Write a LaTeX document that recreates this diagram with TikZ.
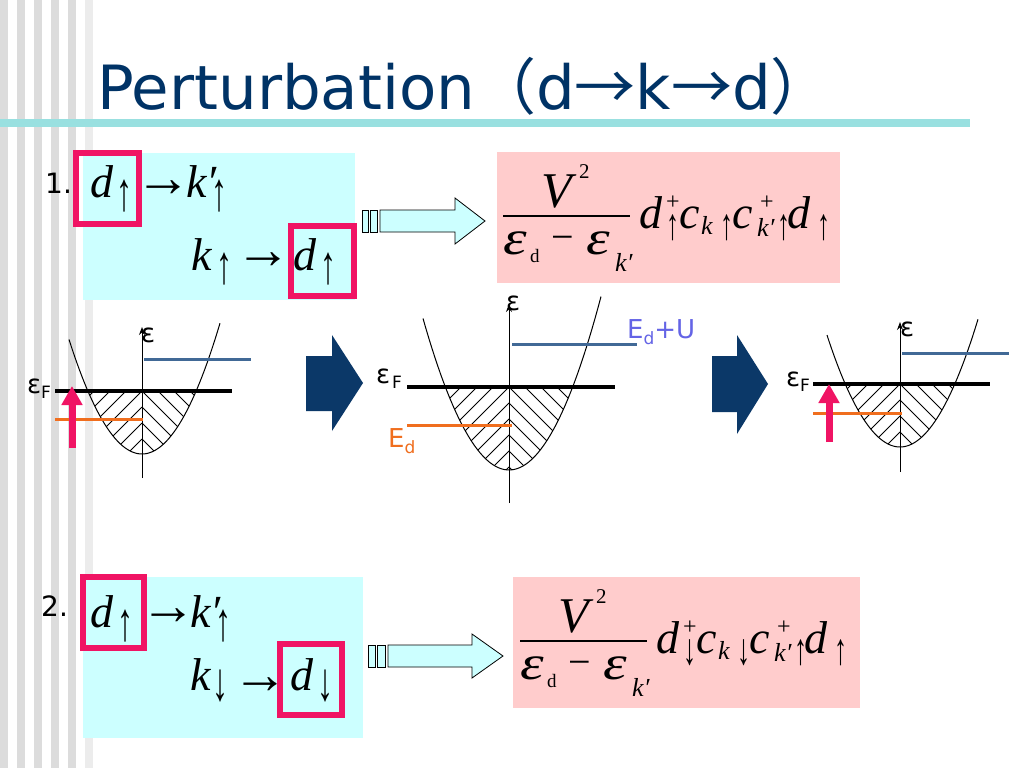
\documentclass[tikz,border=0pt]{standalone}
\usepackage{fontspec}
\usepackage{graphicx}
\setmainfont{DejaVu Sans}
\newfontfamily\tms{Liberation Serif}
\newfontfamily\cjk{Noto Sans CJK JP}
\usetikzlibrary{arrows.meta}
\definecolor{titleblue}{RGB}{0,51,102}
\definecolor{rulec}{RGB}{153,224,224}
\definecolor{stripe}{RGB}{220,220,220}
\definecolor{stripel}{RGB}{236,236,236}
\definecolor{cyanbg}{RGB}{204,255,255}
\definecolor{pinkbg}{RGB}{255,204,204}
\definecolor{hot}{RGB}{240,20,100}
\definecolor{navy}{RGB}{11,56,104}
\definecolor{steel}{RGB}{65,105,150}
\definecolor{orng}{RGB}{240,110,30}
\definecolor{lav}{RGB}{100,100,230}
\newcommand\UA{\scalebox{1}[1.7]{↑}}
\newcommand\DA{\scalebox{1}[1.7]{↓}}
\newcommand\EPS{\scalebox{1.3}[1.05]{ε}}
\tikzset{
  mi/.style={anchor=base west, inner sep=0pt, font=\tms\itshape\fontsize{46}{46}\selectfont},
  mr/.style={anchor=base west, inner sep=0pt, font=\tms\fontsize{46}{46}\selectfont},
  marrow/.style={anchor=base west, inner sep=0pt, font=\tms\fontsize{56}{56}\selectfont},
  si/.style={anchor=base west, inner sep=0pt, font=\tms\itshape\fontsize{26}{26}\selectfont},
  sr/.style={anchor=base west, inner sep=0pt, font=\tms\fontsize{26}{26}\selectfont},
  tiny/.style={anchor=base west, inner sep=0pt, font=\tms\fontsize{21}{21}\selectfont},
  plus/.style={anchor=base west, inner sep=0pt, font=\tms\fontsize{24}{24}\selectfont},
  cs/.style={anchor=base west, inner sep=0pt, font=\tms\fontsize{32}{32}\selectfont},
  lab/.style={anchor=base west, inner sep=0pt, font=\fontsize{26}{26}\selectfont},
  labs/.style={anchor=base west, inner sep=0pt, font=\fontsize{17}{17}\selectfont},
  num/.style={anchor=base west, inner sep=0pt, font=\fontsize{28}{28}\selectfont},
  redbox/.style={draw=hot, line width=6pt},
  hatch/.style={line width=0.9pt},
  curve/.style={line width=1pt},
  fermi/.style={line width=4.5pt},
  upper/.style={steel, line width=3pt},
  lower/.style={orng, line width=3pt},
  axis/.style={line width=1pt, -{Stealth[length=8pt,width=6pt]}},
  pinkarrow/.style={hot, line width=7pt, -{Triangle[length=19pt,width=20pt]}},
  hollow/.style={draw=black, fill=cyanbg, line width=0.8pt},
  navyarrow/.style={fill=navy},
}
% parabola with hatched filling below the Fermi level
% #1 xc, #2 y bottom, #3 a, #4 left dx, #5 right dx, #6 y Fermi
\newcommand\BandCurve[6]{%
  \begin{scope}
    \pgfmathsetmacro\hw{sqrt((#2-#6)/#3)}
    \clip plot[domain=-\hw:\hw,samples=40] ({#1+(\x)},{#2-#3*(\x)^2}) -- cycle;
    \foreach \c in {-96,-80,...,96}{
      \draw[hatch] ({#1},{#6+(\c)}) -- ++(-110,110);
      \draw[hatch] ({#1},{#6+(\c)}) -- ++(110,110);}
  \end{scope}
  \draw[curve] plot[domain=#4:#5,samples=60] ({#1+(\x)},{#2-#3*(\x)^2});
}
\newcommand\PinkFormula[2]{%
  \node[mi, font=\tms\itshape\fontsize{50}{50}\selectfont] (V) at (541,207) {V};
  \node[tiny] (two) at (579,178) {2};
  \coordinate (barl) at (503,216);
  \coordinate (barr) at (630,216);
  \draw[line width=1.8pt] (barl) -- (barr);
  \node[mi] (e1) at (503,254) {\EPS};
  \node[tiny, font=\tms\fontsize{19}{19}\selectfont] (dsub) at (530,262) {d};
  \node[mr, font=\tms\fontsize{40}{40}\selectfont] (minus) at (551,250) {−};
  \node[mi] (e2) at (586,254) {\EPS};
  \node[si] (kp) at (615,271) {k′};
  \node[mi] (d1) at (639,228) {d};
  \node[plus] (p1) at (666,209) {+};
  \node[sr] (a1) at (666,239) {#1};
  \node[mi] (c1) at (679,228) {c};
  \node[si] (k1) at (701,234) {k};
  \node[sr] (a2) at (720,239) {#2};
  \node[mi] (c2) at (732,228) {c};
  \node[plus] (p2) at (760,209) {+};
  \node[si] (k2) at (757,236) {k′};
  \node[sr] (a3) at (777,239) {\UA};
  \node[mi] (d2) at (787,228) {d};
  \node[sr] (a4) at (817,239) {\UA};
}
\begin{document}
\begin{tikzpicture}[x=1pt,y=-1pt]
\useasboundingbox (0,0) rectangle (1024,768);
\fill[white] (0,0) rectangle (1024,768);
% stripes
\foreach \sx in {0,17,34,51,68} \fill[stripe] (\sx,0) rectangle ++(8,768);
\fill[stripel] (85,0) rectangle (93,768);
% title and rule
\fill[rulec] (0,119) rectangle (970,127);
\node[anchor=base west, inner sep=0pt, text=titleblue, font=\fontsize{61}{61}\selectfont] (title) at (97,109)
  {Perturbation{\cjk（}d{\cjk →}k{\cjk →}d{\cjk ）}};

% ---------- case 1 ----------
\fill[cyanbg] (83,153) rectangle (355,300);
\node[num] (n1) at (45,193) {1.};
\node[mi] (b1d) at (90,197) {d};
\node[cs] (b1da) at (116,210) {\UA};
\node[marrow] (b1ar) at (135,196) {→};
\node[mi] (b1k) at (186,197) {k′};
\node[cs] (b1ka) at (211,210) {\UA};
\node[mi] (b1k2) at (191,270) {k};
\node[cs] (b1k2a) at (216,283) {\UA};
\node[marrow] (b1ar2) at (235,268) {→};
\node[mi] (b1d2) at (293,270) {d};
\node[cs] (b1d2a) at (320,283) {\UA};
\draw[redbox] (76,153) rectangle (139,224);
\draw[redbox] (291,226) rectangle (354,296);
% hollow arrow 1
\draw[hollow] (362,210) rectangle (368,232);
\draw[hollow] (370,210) rectangle (377,232);
\draw[hollow] (380,210) -- (455,210) -- (455,198) -- (485,221) -- (455,244) -- (455,232) -- (380,232) -- cycle;
% formula 1
\fill[pinkbg] (497,152) rectangle (840,283);
\begin{scope}[name prefix=f1-]
  \PinkFormula{\UA}{\UA}
\end{scope}

% ---------- band diagram 1 ----------
\BandCurve{142}{454}{0.0215}{-73}{78}{391}
\coordinate (ax1b) at (142,478);
\coordinate (ax1t) at (142,327);
\draw[axis] (ax1b) -- (ax1t);
\node[lab] (eps1) at (141,342) {ε};
\draw[upper] (144,359) -- (251,359);
\draw[fermi] (55,391) -- (232,391);
\draw[lower] (55,419) -- (143,419);
\node[lab] (ef1) at (27,393) {ε};
\node[labs] (ef1s) at (41,398) {F};
\coordinate (pa1b) at (72,448);
\coordinate (pa1t) at (72,386);
\draw[pinkarrow] (pa1b) -- (pa1t);

% navy arrow A
\fill[navyarrow] (306,356) -- (332,356) -- (332,335) -- (363,383) -- (332,431) -- (332,411) -- (306,411) -- cycle;

% ---------- band diagram 2 ----------
\BandCurve{509}{470}{0.0205}{-86}{92}{387}
\coordinate (ax2b) at (509,503);
\coordinate (ax2t) at (509,304);
\draw[axis] (ax2b) -- (ax2t);
\node[lab] (eps2) at (506,310) {ε};
\draw[upper] (512,344) -- (637,344);
\draw[fermi] (407,387) -- (615,387);
\draw[lower] (407,425) -- (512,425);
\node[lab] (ef2) at (376,383) {ε};
\node[labs] (ef2s) at (392,388) {F};
\node[lab, text=lav] (edu) at (627,338) {E\raisebox{-6pt}{\fontsize{17}{17}\selectfont d}+U};
\node[lab, text=orng] (ed) at (388,447) {E\raisebox{-6pt}{\fontsize{17}{17}\selectfont d}};

% navy arrow B
\fill[navyarrow] (712,356) -- (737,356) -- (737,335) -- (768,384) -- (737,434) -- (737,412) -- (712,412) -- cycle;

% ---------- band diagram 3 ----------
\BandCurve{900}{447}{0.021}{-73}{78}{384}
\coordinate (ax3b) at (900,472);
\coordinate (ax3t) at (900,322);
\draw[axis] (ax3b) -- (ax3t);
\node[lab] (eps3) at (900,336) {ε};
\draw[upper] (902,353) -- (1009,353);
\draw[fermi] (813,384) -- (990,384);
\draw[lower] (813,413) -- (902,413);
\node[lab] (ef3) at (786,386) {ε};
\node[labs] (ef3s) at (800,391) {F};
\coordinate (pa3b) at (829,442);
\coordinate (pa3t) at (829,384);
\draw[pinkarrow] (pa3b) -- (pa3t);

% ---------- case 2 ----------
\fill[cyanbg] (83,577) rectangle (363,738);
\node[num] (n2) at (41,616) {2.};
\node[mi] (b2d) at (90,627) {d};
\node[cs] (b2da) at (117,640) {\UA};
\node[marrow] (b2ar) at (140,624) {→};
\node[mi] (b2k) at (190,627) {k′};
\node[cs] (b2ka) at (215,640) {\UA};
\node[mi] (b2k2) at (190,690) {k};
\node[cs] (b2k2a) at (212,700) {\DA};
\node[marrow] (b2ar2) at (232,693) {→};
\node[mi] (b2d2) at (290,690) {d};
\node[cs] (b2d2a) at (317,700) {\DA};
\draw[redbox] (83,577) rectangle (144,648);
\draw[redbox] (280,644) rectangle (342,715);
% hollow arrow 2
\draw[hollow] (368,645) rectangle (375,667);
\draw[hollow] (377,645) rectangle (385,667);
\draw[hollow] (388,645) -- (472,645) -- (472,634) -- (503,656) -- (472,678) -- (472,667) -- (388,667) -- cycle;
% formula 2
\fill[pinkbg] (513,577) rectangle (860,708);
\begin{scope}[shift={(17,425)}, name prefix=f2-]
  \PinkFormula{\DA}{\DA}
\end{scope}
\end{tikzpicture}
\end{document}
